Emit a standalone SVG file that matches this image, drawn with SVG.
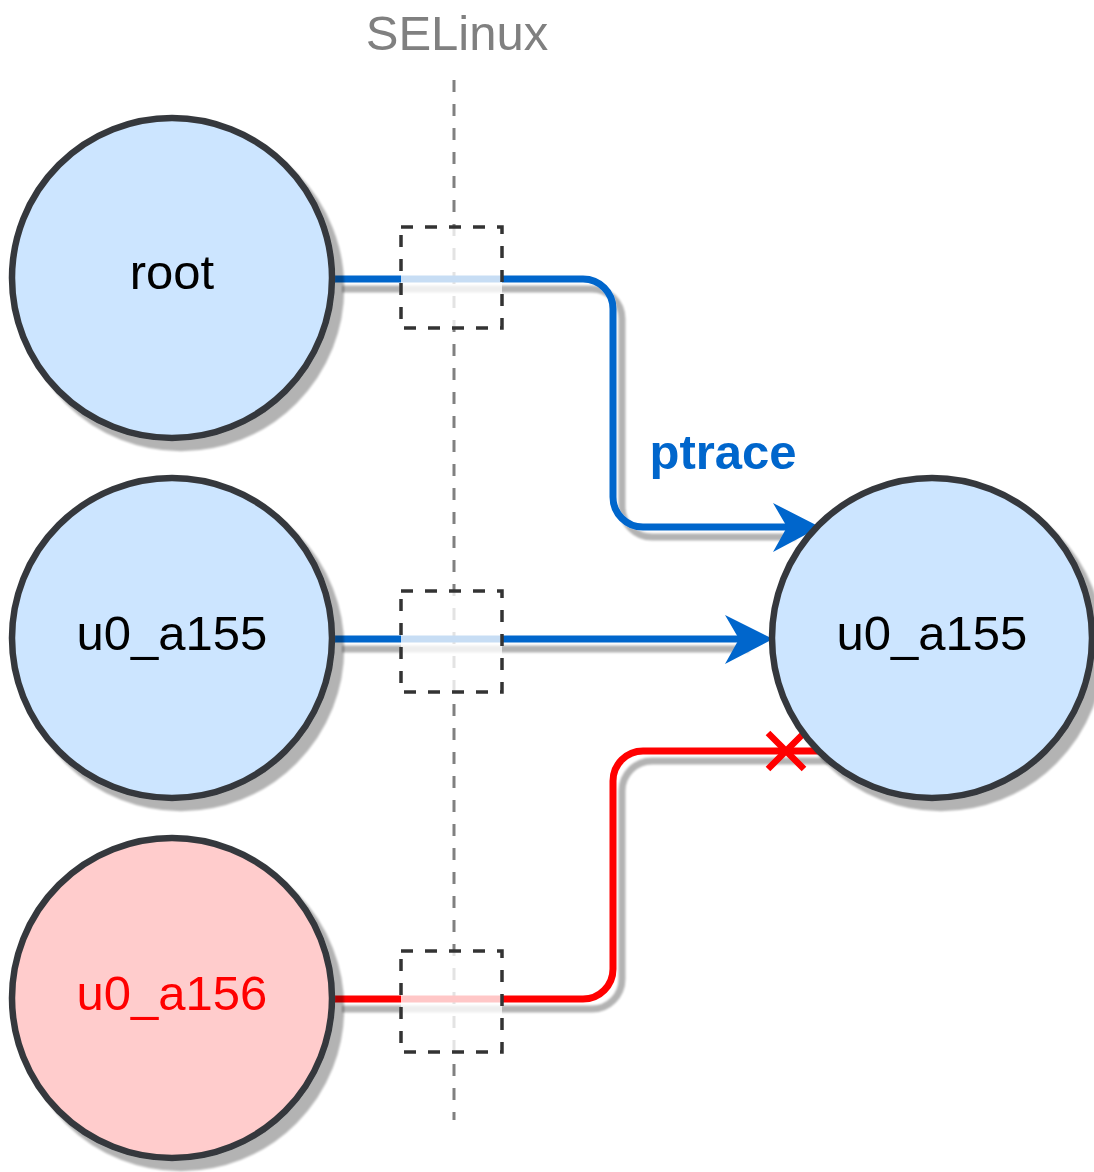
<svg xmlns="http://www.w3.org/2000/svg" width="1094" height="1172" viewBox="0 0 1094 1172">
<style>
.node circle{stroke:#36393d;stroke-width:6.5}
.blue circle{fill:#cce5ff}
.red circle{fill:#ffcccc}
.label{font-family:"Liberation Sans",Arial,sans-serif;font-size:49px;text-anchor:middle}
.edge{fill:none;stroke-width:7}
.gate{fill:#ffffff;fill-opacity:0.78;stroke:#333333;stroke-width:3.5;stroke-dasharray:12 12}
</style>
<defs>
<filter id="sh" filterUnits="userSpaceOnUse" x="0" y="0" width="1094" height="1172">
<feGaussianBlur in="SourceAlpha" stdDeviation="0.8"/>
<feOffset dx="9" dy="10" result="o"/>
<feComponentTransfer in="o" result="s"><feFuncA type="linear" slope="0.3"/></feComponentTransfer>
<feMerge><feMergeNode in="s"/><feMergeNode in="SourceGraphic"/></feMerge>
</filter>
</defs>
<text id="selinux-label" class="label" x="457" y="50" fill="#808080">SELinux</text>
<line id="selinux-line" x1="454" y1="80" x2="454" y2="1120" stroke="#808080" stroke-width="3" stroke-dasharray="12 12"/>
<g id="connectors">
<path class="edge" stroke="#0066cc" filter="url(#sh)" d="M333,279 H583 A30,30 0 0 1 613,309 V497 A30,30 0 0 0 643,527 H787"/>
<polygon fill="#0066cc" points="820,527 773,503 787,527 773,552"/>
<path class="edge" stroke="#0066cc" filter="url(#sh)" d="M333,639 H740"/>
<polygon fill="#0066cc" points="773,639 725,615 739,639 725,664"/>
<path class="edge" stroke="#ff0000" filter="url(#sh)" d="M333,999 H583 A30,30 0 0 0 613,969 V781 A30,30 0 0 1 643,751 H820"/>
<path fill="none" stroke="#ff0000" stroke-width="6.5" d="M768,733 L804,769 M804,733 L768,769"/>
<text class="label" x="723" y="469" fill="#0066cc" font-weight="bold" font-size="48">ptrace</text>
</g>
<g id="gate-root"><rect class="gate" x="401" y="227" width="101" height="101"/></g>
<g id="gate-a155"><rect class="gate" x="401" y="591" width="101" height="101"/></g>
<g id="gate-a156"><rect class="gate" x="401" y="951" width="101" height="101"/></g>
<g id="node-root" class="node blue"><circle cx="172" cy="278" r="160" filter="url(#sh)"/><text class="label" x="172" y="289" fill="#000">root</text></g>
<g id="node-u0a155-left" class="node blue"><circle cx="172" cy="638" r="160" filter="url(#sh)"/><text class="label" x="172" y="650" fill="#000">u0_a155</text></g>
<g id="node-u0a156" class="node red"><circle cx="172" cy="998" r="160" filter="url(#sh)"/><text class="label" x="172" y="1010" fill="#ff0000">u0_a156</text></g>
<g id="node-u0a155-right" class="node blue"><circle cx="932" cy="638" r="160" filter="url(#sh)"/><text class="label" x="932" y="650" fill="#000">u0_a155</text></g>
</svg>
